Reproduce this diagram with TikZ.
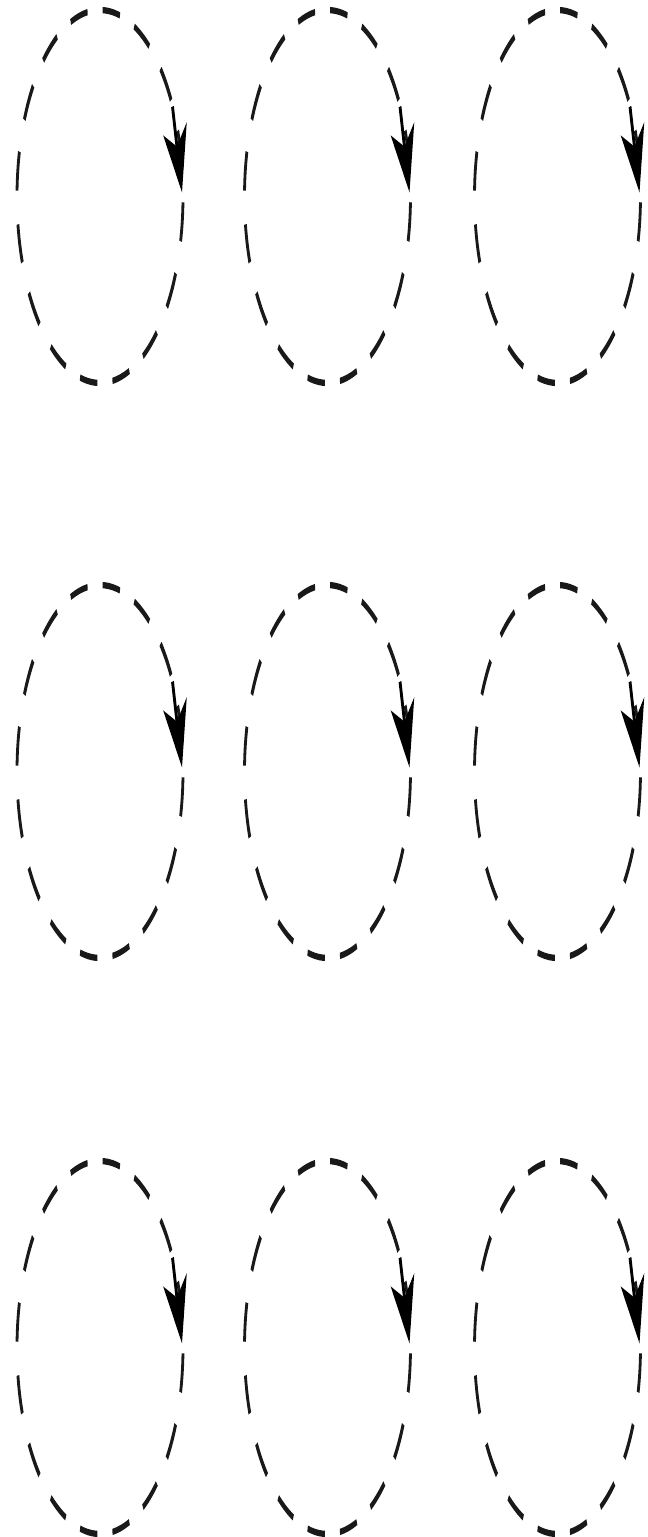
\documentclass[tikz,border=0pt]{standalone}
\usetikzlibrary{arrows.meta}
\begin{document}
\begin{tikzpicture}[x=1pt,y=-1pt,
  loopline/.style={line width=2.8pt, dash pattern=on 17.5pt off 15.1pt, dash phase=30pt, black!90},
  arrowline/.style={line width=2.8pt, solid, black, -{Stealth[length=29pt,width=24pt,inset=8pt]}}]
\useasboundingbox (0,0) rectangle (648,1537);
\begin{scope}[transform canvas={yscale=2.247}]
\foreach \cx in {100,327.5,557.5}
  \foreach \cy in {87.45,343.35,599.7} {
    \draw[loopline] (\cx,\cy) circle[radius=83];
    \draw[arrowline] (\cx+72.5,\cy-40) -- (\cx+82,\cy-1.8);
  }
\end{scope}
\end{tikzpicture}
\end{document}
